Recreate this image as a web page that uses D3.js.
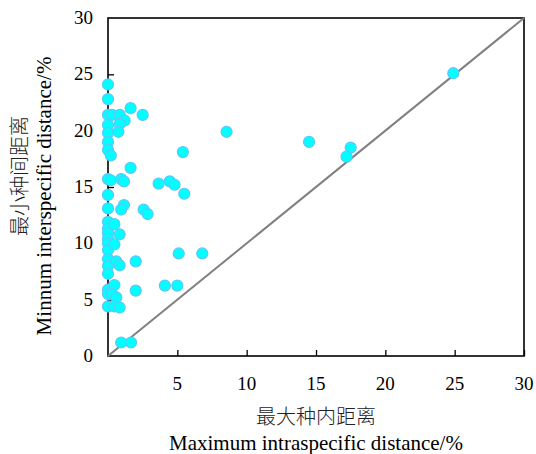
<!DOCTYPE html>
<html><head><meta charset="utf-8">
<script src="https://cdn.jsdelivr.net/npm/d3@7"></script>
<style>body{margin:0;background:#fff}</style>
</head><body>
<script>
// Data: maximum intraspecific distance (x) vs minimum interspecific distance (y), %
const intraMax = [0,0,0,0,0,0,0,0.2,0,0.2,0,0,0,0,0,0,0,0,0,0,0,0,0,0,
  0.3,0.85,1.63,2.5,1.2,0.85,0.75,1.63,0.95,1.15,3.65,4.45,4.8,5.5,5.4,8.55,
  14.5,17.5,17.2,24.9,1.15,0.95,2.57,2.86,0.46,0.84,0.46,0.6,0.84,2.0,5.1,6.8,
  0.46,0.3,0.6,0.46,0.84,2.0,4.1,5.0,0.95,1.66];
const interMin = [24.1,22.8,21.4,20.5,19.8,19.0,18.3,17.8,15.7,15.6,14.3,13.1,11.9,11.3,10.9,10.4,10.0,9.4,8.6,8.0,7.3,5.9,5.5,4.4,
  21.4,21.4,22.0,21.4,20.9,20.6,19.9,16.7,15.7,15.5,15.3,15.5,15.2,14.4,18.1,19.9,
  19.0,18.5,17.7,25.1,13.4,13.0,13.0,12.6,11.7,10.8,9.9,8.4,8.05,8.4,9.1,9.1,
  6.3,5.5,5.2,4.4,4.3,5.8,6.25,6.25,1.2,1.2];
const xTicks = [5,10,15,20,25,30];
const yTicks = [0,5,10,15,20,25,30];
const xTitleZh = "最大种内距离", xTitleEn = "Maximum intraspecific distance/%";
const yTitleZh = "最小种间距离", yTitleEn = "Minnum interspecific distance/%";

const W = 536, H = 454;
const m = {left:108, right:12, top:18, bottom:98};
const svg = d3.select("body").append("svg").attr("width",W).attr("height",H);
const x = d3.scaleLinear().domain([0,30]).range([m.left, W-m.right]);
const y = d3.scaleLinear().domain([0,30]).range([H-m.bottom, m.top]);
const serif = "'Liberation Serif','Times New Roman',serif";
const cjk = "'Noto Sans CJK SC','Liberation Serif',serif";

// frame
svg.append("rect").attr("x",x(0)).attr("y",y(30)).attr("width",x(30)-x(0)).attr("height",y(0)-y(30))
  .attr("fill","none").attr("stroke","#000").attr("stroke-width",1.6);

// x axis (ticks inward)
const xa = svg.append("g").attr("transform",`translate(0,${y(0)})`)
  .call(d3.axisTop(x).tickValues(xTicks).tickSize(6).tickFormat(""));
xa.select(".domain").remove();
xa.selectAll(".tick line").attr("stroke","#000").attr("stroke-width",1.3);
svg.append("g").selectAll("text").data(xTicks).join("text")
  .attr("x",d=>x(d)).attr("y",y(0)+34).attr("text-anchor","middle")
  .attr("font-family",serif).attr("font-size",19).text(d=>d);

// y axis (ticks inward)
const ya = svg.append("g").attr("transform",`translate(${x(0)},0)`)
  .call(d3.axisRight(y).tickValues(yTicks.filter(d=>d>0&&d<30)).tickSize(6).tickFormat(""));
ya.select(".domain").remove();
ya.selectAll(".tick line").attr("stroke","#000").attr("stroke-width",1.3);
svg.append("g").selectAll("text").data(yTicks).join("text")
  .attr("x",x(0)-15).attr("y",d=>y(d)+6).attr("text-anchor","end")
  .attr("font-family",serif).attr("font-size",19).text(d=>d);

// diagonal 1:1 line
svg.append("line").attr("x1",x(0)).attr("y1",y(0)).attr("x2",x(30)).attr("y2",y(30))
  .attr("stroke","#808080").attr("stroke-width",2);

// points
svg.append("g").selectAll("circle").data(intraMax.map((v,i)=>[v,interMin[i]])).join("circle")
  .attr("cx",d=>x(d[0])).attr("cy",d=>y(d[1])).attr("r",5.5)
  .attr("fill","#00FFFF").attr("stroke","#5AC8FA").attr("stroke-width",1.2);

// titles
svg.append("text").attr("x",316).attr("y",424).attr("text-anchor","middle")
  .attr("font-family",cjk).attr("font-size",20).attr("font-weight",300).attr("fill","#222").text(xTitleZh);
svg.append("text").attr("x",316).attr("y",450).attr("text-anchor","middle")
  .attr("font-family",serif).attr("font-size",21).text(xTitleEn);
svg.append("text").attr("transform","translate(27,176) rotate(-90)").attr("text-anchor","middle")
  .attr("font-family",cjk).attr("font-size",20).attr("font-weight",300).attr("fill","#222").text(yTitleZh);
svg.append("text").attr("transform","translate(51,196) rotate(-90)").attr("text-anchor","middle")
  .attr("font-family",serif).attr("font-size",21).text(yTitleEn);
</script>
</body></html>
